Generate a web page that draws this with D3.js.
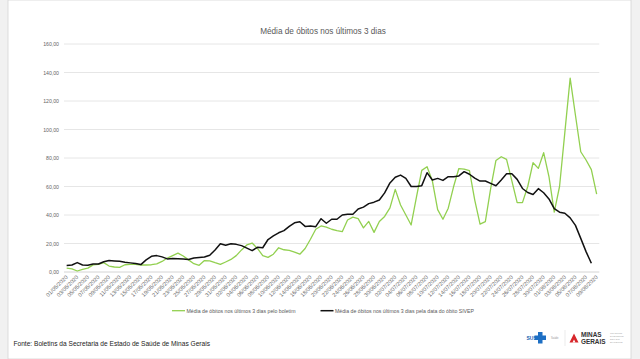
<!DOCTYPE html>
<html>
<head>
<meta charset="utf-8">
<script src="https://cdn.jsdelivr.net/npm/d3@7"></script>
<style>
body{margin:0;background:#fff;}
svg{display:block;font-family:"Liberation Sans",Arial,sans-serif;}
</style>
</head>
<body>
<svg id="chart" width="640" height="359"></svg>
<script>
// dias (categorias do eixo x)
let days=["01/05/2020","02/05/2020","03/05/2020","04/05/2020","05/05/2020","06/05/2020","07/05/2020","08/05/2020","09/05/2020","10/05/2020",
"11/05/2020","12/05/2020","13/05/2020","14/05/2020","15/05/2020","16/05/2020","17/05/2020","18/05/2020","19/05/2020","20/05/2020",
"21/05/2020","22/05/2020","23/05/2020","24/05/2020","25/05/2020","26/05/2020","27/05/2020","28/05/2020","29/05/2020","30/05/2020","31/05/2020",
"01/06/2020","02/06/2020","03/06/2020","04/06/2020","05/06/2020","06/06/2020","07/06/2020","08/06/2020","09/06/2020","10/06/2020",
"11/06/2020","12/06/2020","13/06/2020","14/06/2020","15/06/2020","16/06/2020","17/06/2020","18/06/2020","19/06/2020","20/06/2020",
"21/06/2020","22/06/2020","23/06/2020","24/06/2020","25/06/2020","26/06/2020","27/06/2020","28/06/2020","29/06/2020","30/06/2020",
"01/07/2020","02/07/2020","03/07/2020","04/07/2020","05/07/2020","06/07/2020","07/07/2020","08/07/2020","09/07/2020","10/07/2020",
"11/07/2020","12/07/2020","13/07/2020","14/07/2020","15/07/2020","16/07/2020","17/07/2020","18/07/2020","19/07/2020","20/07/2020",
"21/07/2020","22/07/2020","23/07/2020","24/07/2020","25/07/2020","26/07/2020","27/07/2020","28/07/2020","29/07/2020","30/07/2020","31/07/2020",
"01/08/2020","02/08/2020","03/08/2020","04/08/2020","05/08/2020","06/08/2020","07/08/2020","08/08/2020","09/08/2020"];

// média pelo boletim (verde)
let boletim=[2.7,2.2,0.7,1.9,2.7,5.0,5.4,6.6,4.2,3.5,
3.3,5.1,5.4,5.4,4.9,4.9,5.1,5.7,7.4,9.8,
11.5,13.2,11.2,8.5,5.8,4.7,8.0,7.8,6.5,5.3,
7.0,8.8,11.5,15.5,19.0,20.3,16.5,11.5,10.3,12.5,
17.0,15.6,15.2,14.0,12.5,16.5,23.0,30.0,32.3,31.5,
30.0,29.0,28.3,36.5,38.5,37.5,31.0,35.5,27.8,35.5,
39.0,45.0,58.0,47.0,40.0,33.0,52.5,71.3,73.9,64.0,
43.8,37.0,44.8,59.8,72.6,72.2,71.1,50.5,33.6,35.3,
58.5,78.3,80.9,79.0,64.0,48.7,48.7,60.0,76.7,72.7,
83.7,67.0,42.0,60.0,98.0,136.0,110.0,84.4,78.6,71.8,54.7];

// média pela data do óbito SIVEP (preto)
let sivep=[4.6,4.9,6.6,4.9,4.8,5.6,5.6,7.2,8.0,7.8,
7.6,6.9,6.4,5.9,5.2,8.5,11.0,11.5,10.6,9.2,
9.4,9.3,9.2,8.8,9.8,10.2,10.5,11.8,15.4,19.8,
18.8,19.8,19.4,18.5,16.8,15.0,17.3,17.0,22.8,25.3,
27.5,29.0,32.0,34.5,35.3,32.0,32.3,31.8,37.4,34.2,
37.0,37.0,40.0,40.5,40.5,44.2,45.5,48.0,49.0,50.5,
55.5,62.5,66.5,68.0,65.7,60.0,60.0,60.6,69.7,64.6,
65.7,64.3,66.9,66.9,67.4,70.4,68.6,65.9,63.8,63.9,
62.2,60.5,64.6,68.9,68.9,65.0,58.6,55.8,54.4,58.5,
55.6,51.3,44.5,42.0,41.2,38.0,32.7,23.6,14.3,6.1];

let yTicks=[0,20,40,60,80,100,120,140,160];

let svg=d3.select("#chart");

// moldura cinza nas laterais
svg.append("rect").attr("x",0).attr("y",0).attr("width",640).attr("height",359).attr("fill","#f1f1f1");
svg.append("rect").attr("x",8).attr("y",0).attr("width",623).attr("height",359).attr("fill","#fff").attr("stroke","#d4d4d4").attr("stroke-width",0.8);

let xScale=d3.scaleBand().domain(days).range([64,599.3]).padding(0);
let yScale=d3.scaleLinear().domain([0,160]).range([272,44]);
let cx=(d)=>xScale(d)+xScale.bandwidth()/2;

// grade
svg.append("g").selectAll("line").data(yTicks).enter().append("line")
  .attr("x1",64).attr("x2",599.3)
  .attr("y1",d=>yScale(d)).attr("y2",d=>yScale(d))
  .attr("stroke",d=>d==0?"#cfcfcf":"#e3e3e3").attr("stroke-width",0.9);

let yAxis=d3.axisLeft(yScale).tickValues(yTicks).tickSize(0).tickPadding(5)
  .tickFormat(d=>d.toFixed(2).replace(".",","));
let gy=svg.append("g").attr("transform","translate(59,0)").call(yAxis);
gy.select(".domain").remove();
gy.selectAll("text").attr("x",0).style("font-size","5.2px").attr("fill","#666");

let xAxis=d3.axisBottom(xScale).tickValues(days.filter((d,i)=>i%2==0)).tickSize(0);
let gx=svg.append("g").attr("transform","translate(0,272)").call(xAxis);
gx.select(".domain").remove();
gx.selectAll("text")
  .style("font-size","5.6px").attr("fill","#6a6a6a")
  .style("text-anchor","end")
  .attr("dy",0).attr("y",0)
  .attr("transform","translate(1.5,5.5) rotate(-45)");

let line=d3.line().x((d,i)=>cx(days[i])).y(d=>yScale(d));

svg.append("path").datum(boletim).attr("d",line).attr("fill","none")
  .attr("stroke","#92d050").attr("stroke-width",1.3).attr("stroke-linejoin","round");
svg.append("path").datum(sivep).attr("d",line).attr("fill","none")
  .attr("stroke","#111").attr("stroke-width",1.5).attr("stroke-linejoin","round");

// título
svg.append("text").text("Média de óbitos nos últimos 3 dias")
  .attr("x",323).attr("y",34).style("text-anchor","middle")
  .style("font-size","8.2px").attr("fill","#595959");

// legenda
let leg=[{c:"#92d050",w:1.3,x:172,t:"Média de óbitos nos últimos 3 dias pelo boletim"},
         {c:"#111",w:1.5,x:320.5,t:"Média de óbitos nos últimos 3 dias pela data do óbito SIVEP"}];
let lg=svg.append("g");
leg.forEach(l=>{
  lg.append("line").attr("x1",l.x).attr("x2",l.x+13).attr("y1",310.7).attr("y2",310.7).attr("stroke",l.c).attr("stroke-width",l.w);
  lg.append("text").text(l.t).attr("x",l.x+14.5).attr("y",312.5).style("font-size","5.2px").attr("fill","#595959");
});

// fonte
svg.append("text").text("Fonte: Boletins da Secretaria de Estado de Saúde de Minas Gerais")
  .attr("x",13.5).attr("y",346).style("font-size","6.6px").attr("fill","#222");

// logos
let lo=svg.append("g");
lo.append("text").text("SUS").attr("x",526.5).attr("y",339.5).style("font-size","5px").style("font-weight","bold").attr("fill","#1d5fb0");
lo.append("rect").attr("x",538).attr("y",332).attr("width",4.5).attr("height",11.5).attr("fill","#1d6fc4");
lo.append("rect").attr("x",534.5).attr("y",335.5).attr("width",11.5).attr("height",4.5).attr("fill","#1d6fc4");
lo.append("text").text("Saúde").attr("x",551).attr("y",338.6).style("font-size","2.6px").attr("fill","#999");
lo.append("line").attr("x1",565).attr("x2",565).attr("y1",330).attr("y2",346).attr("stroke","#ddd").attr("stroke-width",0.6);
lo.append("path").attr("d","M569.5,342.5 L574,333.5 L578.5,342.5 Z").attr("fill","#d7262b");
lo.append("path").attr("d","M572.5,342.5 L574,339.5 L575.5,342.5 Z").attr("fill","#fff");
lo.append("text").text("MINAS").attr("x",581).attr("y",336.8).style("font-size","6.4px").style("font-weight","bold").attr("fill","#333");
lo.append("text").text("GERAIS").attr("x",581).attr("y",343.8).style("font-size","6.4px").style("font-weight","bold").attr("fill","#333");
["GOVERNO","DIFERENTE","ESTADO","EFICIENTE"].forEach((t,i)=>{
  lo.append("text").text(t).attr("x",610).attr("y",333.5+i*3).style("font-size","2.4px").attr("fill","#aaa");
});
</script>
</body>
</html>
